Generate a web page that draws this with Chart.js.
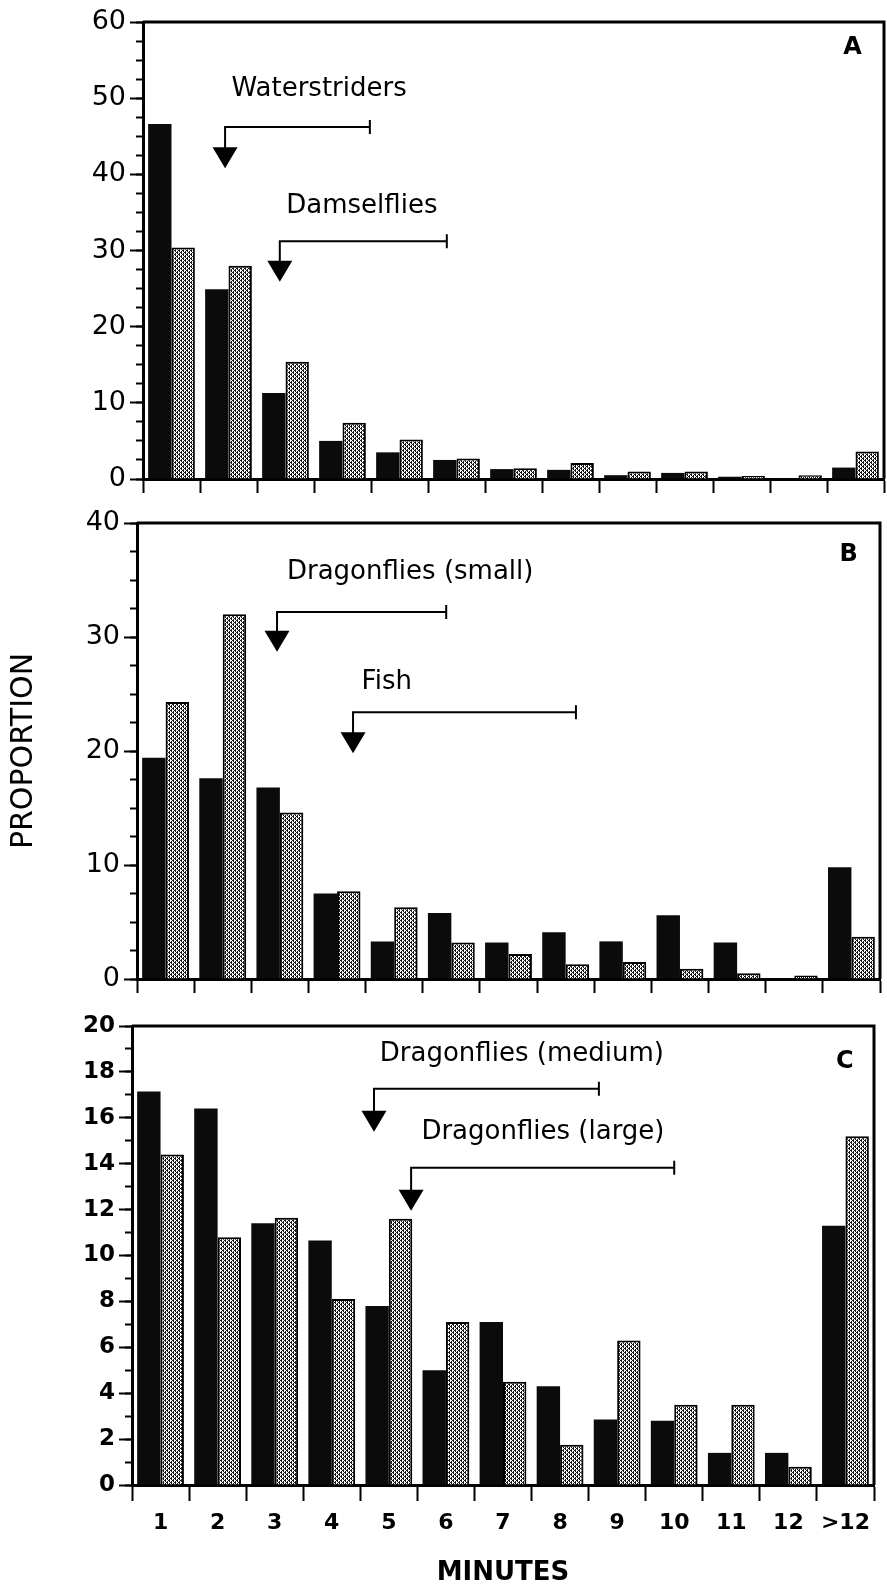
<!DOCTYPE html>
<html>
<head>
<meta charset="utf-8">
<script src="https://cdn.jsdelivr.net/npm/chart.js@4.4.1/dist/chart.umd.min.js"></script>
<style>
	body { margin: 0; background: #fff; }
	#wrap { position: relative; width: 887px; height: 1593px; }
	#wrap canvas { position: absolute; left: 0; }
</style>
</head>
<body>
<div id="wrap">
	<canvas id="chartA" width="887" height="500" style="top:0px"></canvas>
	<canvas id="chartB" width="887" height="500" style="top:500px"></canvas>
	<canvas id="chartC" width="887" height="593" style="top:1000px"></canvas>
</div>
<script>
// categories (minutes)
const minutes = ["1", "2", "3", "4", "5", "6", "7", "8", "9", "10", "11", "12", ">12"];

// panel A
const blackA = [46.6, 24.9, 11.3, 5.0, 3.5, 2.5, 1.3, 1.2, 0.5, 0.8, 0.3, 0.1, 1.5];
const greyA = [30.4, 28.0, 15.4, 7.4, 5.2, 2.7, 1.4, 2.1, 1.0, 1.0, 0.4, 0.5, 3.6];
const yTicksA = [0, 10, 20, 30, 40, 50, 60];

// panel B
const blackB = [19.4, 17.6, 16.8, 7.5, 3.3, 5.8, 3.2, 4.1, 3.3, 5.6, 3.2, 0, 9.8];
const greyB = [24.3, 32.0, 14.6, 7.7, 6.3, 3.2, 2.2, 1.3, 1.5, 0.9, 0.5, 0.3, 3.7];
const yTicksB = [0, 10, 20, 30, 40];

// panel C
const blackC = [17.15, 16.4, 11.4, 10.65, 7.8, 5.0, 7.1, 4.3, 2.85, 2.8, 1.4, 1.4, 11.3];
const greyC = [14.4, 10.8, 11.65, 8.1, 11.6, 7.1, 4.5, 1.75, 6.3, 3.5, 3.5, 0.8, 15.2];
const yTicksC = [0, 2, 4, 6, 8, 10, 12, 14, 16, 18, 20];

// arrow notes (in axis units: category index / proportion)
const notesA = [
	{ text: "Waterstriders", tx: 2.59, ty: 51.2, ax: 0.94, ex: 3.48, ly: 46.2, tip: 40.8 },
	{ text: "Damselflies", tx: 3.34, ty: 35.8, ax: 1.90, ex: 4.83, ly: 31.2, tip: 25.9 }
];
const notesB = [
	{ text: "Dragonflies (small)", tx: 4.28, ty: 35.7, ax: 1.95, ex: 4.91, ly: 32.2, tip: 28.7 },
	{ text: "Fish", tx: 3.87, ty: 26.0, ax: 3.28, ex: 7.18, ly: 23.4, tip: 19.8 }
];
const notesC = [
	{ text: "Dragonflies (medium)", tx: 6.33, ty: 18.75, ax: 3.74, ex: 7.68, ly: 17.27, tip: 15.39 },
	{ text: "Dragonflies (large)", tx: 6.70, ty: 15.39, ax: 4.39, ex: 9.0, ly: 13.82, tip: 11.95 }
];

Chart.defaults.font.family = "'DejaVu Sans', sans-serif";
Chart.defaults.color = "#000";

// small crosshatch weave for the second series
function hatchPattern() {
	var c = document.createElement("canvas");
	c.width = 4;
	c.height = 4;
	var g = c.getContext("2d");
	g.fillStyle = "#fff";
	g.fillRect(0, 0, 4, 4);
	g.fillStyle = "#151515";
	for (var px = 0; px < 4; px++) {
		for (var py = 0; py < 4; py++) {
			if ((px + py) % 4 == 0 || (px - py + 4) % 4 == 0 || (px == 1 && py == 0) || (px == 3 && py == 2)) {
				g.fillRect(px, py, 1, 1);
			}
		}
	}
	return g.createPattern(c, "repeat");
}
const hatch = hatchPattern();

// box + arrows + panel letter
function makeFrame(notes, letter, letterPos) {
	return {
		id: "frame",
		afterDraw: function(chart) {
			var ctx = chart.ctx;
			var a = chart.chartArea;
			var x = chart.scales.x;
			var y = chart.scales.y;
			ctx.save();
			ctx.strokeStyle = "#000";
			ctx.fillStyle = "#000";
			ctx.lineWidth = 3;
			ctx.beginPath();
			ctx.moveTo(a.left, a.top);
			ctx.lineTo(a.right, a.top);
			ctx.lineTo(a.right, a.bottom);
			ctx.stroke();

			ctx.font = "26px 'DejaVu Sans'";
			ctx.textAlign = "center";
			ctx.textBaseline = "middle";
			for (var i = 0; i < notes.length; i++) {
				var n = notes[i];
				ctx.fillText(n.text, x.getPixelForValue(n.tx), y.getPixelForValue(n.ty));
				var ax = x.getPixelForValue(n.ax);
				var ex = x.getPixelForValue(n.ex);
				var ly = y.getPixelForValue(n.ly);
				var tip = y.getPixelForValue(n.tip);
				ctx.lineWidth = 2;
				ctx.beginPath();
				ctx.moveTo(ex, ly);
				ctx.lineTo(ax, ly);
				ctx.lineTo(ax, tip - 20);
				ctx.moveTo(ex, ly - 7);
				ctx.lineTo(ex, ly + 7);
				ctx.stroke();
				ctx.beginPath();
				ctx.moveTo(ax - 12.5, tip - 21);
				ctx.lineTo(ax + 12.5, tip - 21);
				ctx.lineTo(ax, tip);
				ctx.closePath();
				ctx.fill();
			}

			ctx.font = "bold 24px 'DejaVu Sans'";
			ctx.fillText(letter, x.getPixelForValue(letterPos[0]), y.getPixelForValue(letterPos[1]));
			ctx.restore();
		}
	};
}

function makeChart(id, black, grey, yTicks, minorStep, opt) {
	var ymax = yTicks[yTicks.length - 1];
	var config = {
		type: "bar",
		data: {
			labels: minutes,
			datasets: [
				{
					data: black,
					yAxisID: "y",
					backgroundColor: "#0b0b0b",
					borderWidth: 0,
					barPercentage: 1,
					categoryPercentage: 0.82
				},
				{
					data: grey,
					yAxisID: "y",
					backgroundColor: hatch,
					borderColor: "#000",
					borderWidth: 2,
					barPercentage: 1,
					categoryPercentage: 0.82
				}
			]
		},
		options: {
			responsive: false,
			animation: false,
			events: [],
			layout: { padding: opt.padding },
			plugins: { legend: { display: false }, tooltip: { enabled: false } },
			scales: {
				x: {
					type: "category",
					grid: { drawOnChartArea: false, offset: true, tickLength: opt.xTick, tickWidth: 2, color: "#000" },
					border: { width: 3, color: "#000" },
					ticks: {
						display: opt.xLabels,
						padding: 9,
						maxRotation: 0,
						autoSkip: false,
						font: { size: 22, weight: "bold" }
					},
					title: {
						display: opt.xLabels,
						text: "MINUTES",
						font: { size: 26, weight: "bold" },
						padding: { top: 0, bottom: 4 }
					},
					afterFit: function(s) { s.height = opt.xHeight; }
				},
				y: {
					type: "linear",
					position: "left",
					weight: 1,
					min: 0,
					max: ymax,
					afterBuildTicks: function(s) {
						s.ticks = yTicks.map(function(v) { return { value: v }; });
					},
					grid: { drawOnChartArea: false, tickLength: 13, tickWidth: 2, color: "#000" },
					border: { width: 3, color: "#000" },
					ticks: { padding: 4, font: opt.yFont },
					title: {
						display: opt.yTitle,
						text: "PROPORTION",
						font: { size: 30 },
						padding: { top: 6, bottom: 0 }
					},
					afterFit: function(s) { s.width = opt.left; }
				},
				ym: {
					type: "linear",
					position: "left",
					weight: 0,
					min: 0,
					max: ymax,
					ticks: { display: false, stepSize: minorStep },
					grid: { drawOnChartArea: false, tickLength: 7, tickWidth: 2, color: "#000" },
					border: { display: false },
					afterFit: function(s) { s.width = 0; }
				}
			}
		},
		plugins: [makeFrame(opt.notes, opt.letter, opt.letterPos)]
	};
	return new Chart(document.getElementById(id), config);
}

makeChart("chartA", blackA, greyA, yTicksA, 2.5, {
	padding: { top: 22, right: 3, bottom: 7, left: 0 },
	left: 143, xTick: 14, xHeight: 14, xLabels: false, yTitle: false,
	yFont: { size: 27 },
	notes: notesA, letter: "A", letterPos: [11.95, 56.6]
});

makeChart("chartB", blackB, greyB, yTicksB, 2.5, {
	padding: { top: 23, right: 7, bottom: 7, left: 0 },
	left: 137, xTick: 14, xHeight: 14, xLabels: false, yTitle: true,
	yFont: { size: 27 },
	notes: notesB, letter: "B", letterPos: [11.95, 37.2]
});

makeChart("chartC", blackC, greyC, yTicksC, 1, {
	padding: { top: 26, right: 13, bottom: 0, left: 0 },
	left: 132, xTick: 16, xHeight: 108, xLabels: true, yTitle: false,
	yFont: { size: 23, weight: "bold" },
	notes: notesC, letter: "C", letterPos: [11.99, 18.45]
});
</script>
</body>
</html>
